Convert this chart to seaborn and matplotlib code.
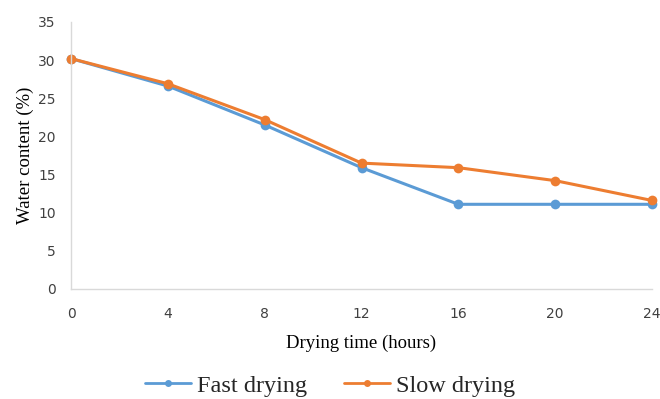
import matplotlib
matplotlib.use("Agg")
import matplotlib.pyplot as plt
import seaborn as sns
import pandas as pd

hours = [0, 4, 8, 12, 16, 20, 24]
fast = [30.2, 26.6, 21.5, 15.9, 11.1, 11.1, 11.1]
slow = [30.2, 26.9, 22.2, 16.5, 15.9, 14.2, 11.6]
series_names = ["Fast drying", "Slow drying"]
colors = ["#5B9BD5", "#ED7D31"]

df = pd.DataFrame({
    "hours": hours * 2,
    "water": fast + slow,
    "series": [series_names[0]] * len(hours) + [series_names[1]] * len(hours),
})

sns.set_theme(style="white")
fig = plt.figure(figsize=(6.6, 3.99), dpi=100)
ax = fig.add_axes([0.1076, 0.2757, 0.8804, 0.6693])

sns.lineplot(data=df, x="hours", y="water", hue="series", palette=colors,
             marker="o", markersize=7, markeredgewidth=0, linewidth=2.2,
             ax=ax, legend=True)
for l in ax.lines:
    l.set_clip_on(False)

ax.set_xlim(0, 24)
ax.set_ylim(0, 35)
ax.set_xticks(hours)
ax.set_yticks(range(0, 36, 5))
ax.tick_params(axis="both", length=0, labelsize=10, labelcolor="#404040")
ax.tick_params(axis="x", pad=13)
ax.tick_params(axis="y", pad=11)
for lab in ax.get_xticklabels() + ax.get_yticklabels():
    lab.set_family("DejaVu Sans")

for s in ["top", "right"]:
    ax.spines[s].set_visible(False)
for s in ["left", "bottom"]:
    ax.spines[s].set_color("#d9d9d9")
    ax.spines[s].set_linewidth(1)

ax.set_xlabel("Drying time (hours)", family="Liberation Serif", fontsize=13.5, color="#000000", labelpad=10)
ax.set_ylabel("Water content (%)", family="Liberation Serif", fontsize=13.5, color="#000000", labelpad=3)

h, lbl = ax.get_legend_handles_labels()
for hh in h:
    hh.set_markersize(5)
    hh.set_linewidth(2)
ax.legend_.remove()
fig.legend(h, lbl, loc="center", bbox_to_anchor=(0.5, 0.033), ncol=2, frameon=False,
           prop={"family": "Liberation Serif", "size": 17.5}, handlelength=1.9,
           columnspacing=1.5, handletextpad=0.25, borderaxespad=0, borderpad=0)

fig.savefig("out.png", dpi=100)
